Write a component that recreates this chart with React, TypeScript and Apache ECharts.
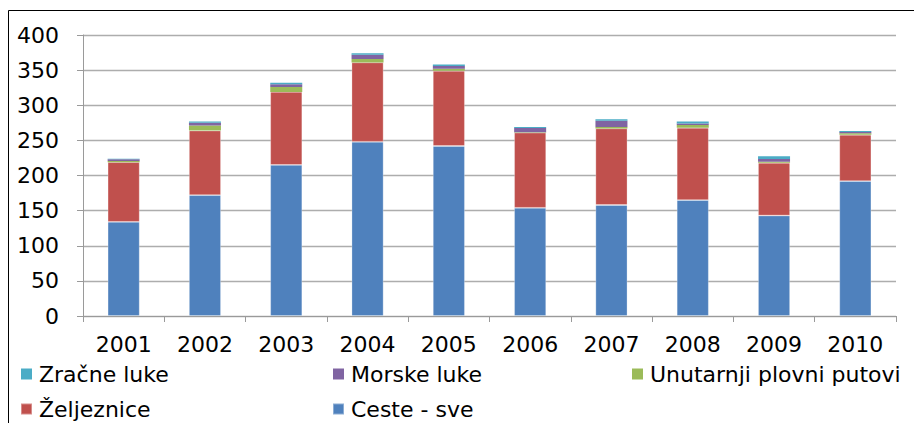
import React, { useEffect, useRef } from "react";
import * as echarts from "echarts";

const years = ["2001", "2002", "2003", "2004", "2005", "2006", "2007", "2008", "2009", "2010"];
const ceste = [134, 172, 215, 248, 242, 154, 158, 165, 143, 192];
const zeljeznice = [85, 92, 104, 113, 107, 107, 109, 103, 75, 66];
const unutarnji = [1.5, 7, 7, 5, 3, 0.5, 2, 4, 1.5, 2];
const morske = [2.5, 4, 4, 6, 4, 6, 9, 2, 4, 2];
const zracne = [1, 2, 2, 2, 2, 1.5, 2, 3, 4, 1.5];
const yTicks = { min: 0, max: 400, interval: 50 };

const colors = {
  zracne: "#4bacc6",
  morske: "#8064a2",
  unutarnji: "#9bbb59",
  zeljeznice: "#c0504d",
  ceste: "#4f81bd",
};

const FONT = "'DejaVu Sans', Arial, sans-serif";

export default function App() {
  const ref = useRef<HTMLDivElement>(null);
  useEffect(() => {
    if (!ref.current) return;
    const chart = echarts.init(ref.current, undefined, { renderer: "svg" });
    const mk = (name: string, data: number[], color: string, border: boolean) => ({
      name,
      type: "bar",
      stack: "total",
      barWidth: 32,
      data,
      itemStyle: border
        ? { color, borderColor: "rgba(255,255,255,0.35)", borderWidth: 0.8 }
        : { color, borderWidth: 0 },
    });
    const legendText = { fontSize: 22, color: "#000", fontFamily: FONT, lineHeight: 22, padding: [0, 0, 0, 2] };
    const legendBase = {
      orient: "vertical",
      top: 363,
      icon: "rect",
      itemWidth: 11,
      itemHeight: 11,
      itemGap: 13,
      padding: 0,
      textStyle: legendText,
    };
    chart.setOption({
      animation: false,
      grid: { left: 83, right: 18, top: 35, bottom: 107, containLabel: false },
      xAxis: {
        type: "category",
        data: years,
        boundaryGap: true,
        axisLine: { lineStyle: { color: "#9a9a9a", width: 1 } },
        axisTick: { show: true, length: 6, interval: 0, lineStyle: { color: "#9a9a9a" } },
        axisLabel: { fontSize: 22, color: "#000", fontFamily: FONT, margin: 17, interval: 0 },
      },
      yAxis: {
        type: "value",
        min: yTicks.min,
        max: yTicks.max,
        interval: yTicks.interval,
        axisLine: { show: true, lineStyle: { color: "#9a9a9a", width: 1 } },
        axisTick: { show: true, length: 6, lineStyle: { color: "#9a9a9a" } },
        axisLabel: { fontSize: 22, color: "#000", fontFamily: FONT, margin: 24 },
        splitLine: { lineStyle: { color: "#adadad", width: 1.3 } },
      },
      legend: [
        { ...legendBase, data: ["Zračne luke", "Željeznice"], left: 20 },
        { ...legendBase, data: ["Morske luke", "Ceste - sve"], left: 332 },
        { ...legendBase, data: ["Unutarnji plovni putovi"], left: 632 },
      ],
      graphic: [
        {
          type: "rect",
          shape: { x: 8.5, y: 10.5, width: 1200, height: 1200 },
          style: { fill: "none", stroke: "#000", lineWidth: 1 },
          silent: true,
        },
      ],
      series: [
        mk("Ceste - sve", ceste, colors.ceste, true),
        mk("Željeznice", zeljeznice, colors.zeljeznice, true),
        mk("Unutarnji plovni putovi", unutarnji, colors.unutarnji, false),
        mk("Morske luke", morske, colors.morske, false),
        mk("Zračne luke", zracne, colors.zracne, false),
      ],
    });
    return () => chart.dispose();
  }, []);
  return (
    <div
      ref={ref}
      style={{ position: "fixed", left: 0, top: 0, width: 914, height: 423, background: "#fff" }}
    />
  );
}
